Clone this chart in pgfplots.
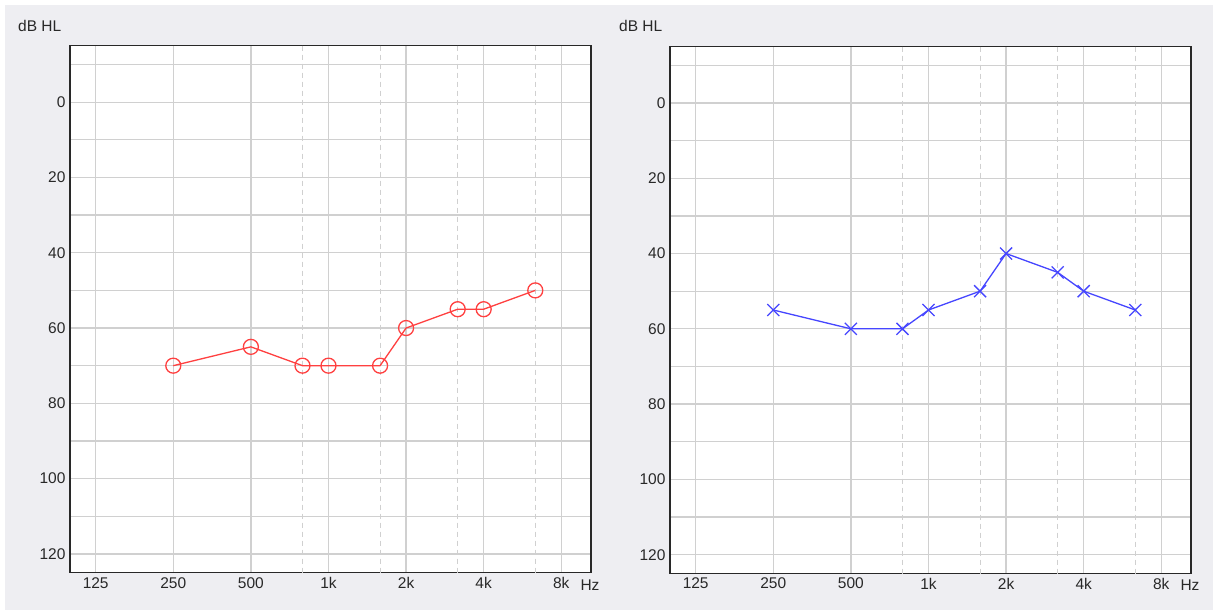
\documentclass[border=0pt]{standalone}
\usepackage{fontspec}
\setmainfont{Liberation Sans}
\usepackage{pgfplots}
\pgfplotsset{compat=1.18}
\definecolor{bgc}{RGB}{238,238,242}
\definecolor{gridc}{RGB}{208,208,208}
\definecolor{redc}{RGB}{255,64,64}
\definecolor{bluec}{RGB}{70,70,255}
\definecolor{axc}{RGB}{40,40,40}
\pgfplotsset{audio/.style={
  scale only axis, width=521pt, height=527pt,
  xmin=-0.331, xmax=6.383, ymin=-15, ymax=125, y dir=reverse,
  axis background/.style={fill=white},
  xtick={0,1,2,3,4,5,6}, xticklabels={125,250,500,1k,2k,4k,8k},
  extra x ticks={2.665,3.665,4.665,5.665}, extra x tick labels={},
  extra x tick style={grid=major, major grid style={gridc, line width=1.1pt, dash pattern=on 5pt off 4pt}},
  ytick={0,20,...,120}, minor ytick={-10,10,...,110},
  grid=both, major grid style={gridc, line width=1.3pt}, minor grid style={gridc, line width=1.3pt},
  major tick length=0pt, minor tick length=0pt,
  axis line style={axc, line width=1.4pt},
  tick label style={font=\fontsize{15.5}{18}\selectfont, text=axc},
  /pgf/number format/assume math mode=true,
  xticklabel style={yshift=-1pt},
  yticklabel style={xshift=-1pt},
}}
\begin{document}
\begin{tikzpicture}
\useasboundingbox (0,0) rectangle (1213pt,-610pt);
\fill[white] (0,0) rectangle (1213pt,-610pt);
\fill[bgc] (5pt,-5pt) rectangle (1213pt,-610pt);
\node[anchor=west, inner sep=0pt, font=\fontsize{15.5}{18}\selectfont, text=axc] at (18pt,-26pt) {dB HL};
\node[anchor=west, inner sep=0pt, font=\fontsize{15.5}{18}\selectfont, text=axc] at (619pt,-26pt) {dB HL};
\node[inner sep=0pt, font=\fontsize{15.5}{18}\selectfont, text=axc] at (590pt,-585pt) {Hz};
\node[inner sep=0pt, font=\fontsize{15.5}{18}\selectfont, text=axc] at (1190pt,-585pt) {Hz};
\begin{axis}[audio, at={(70pt,-572.7pt)}, anchor=south west]
\addplot[redc, line width=1.3pt, mark=o, mark size=7.5pt, mark options={solid}] coordinates {
(1,70) (2,65) (2.665,70) (3,70) (3.665,70) (4,60) (4.665,55) (5,55) (5.665,50)};
\end{axis}
\begin{axis}[audio, at={(670pt,-573.5pt)}, anchor=south west]
\addplot[bluec, line width=1.3pt, mark=x, mark size=8.5pt, mark options={solid}] coordinates {
(1,55) (2,60) (2.665,60) (3,55) (3.665,50) (4,40) (4.665,45) (5,50) (5.665,55)};
\end{axis}
\end{tikzpicture}
\end{document}
